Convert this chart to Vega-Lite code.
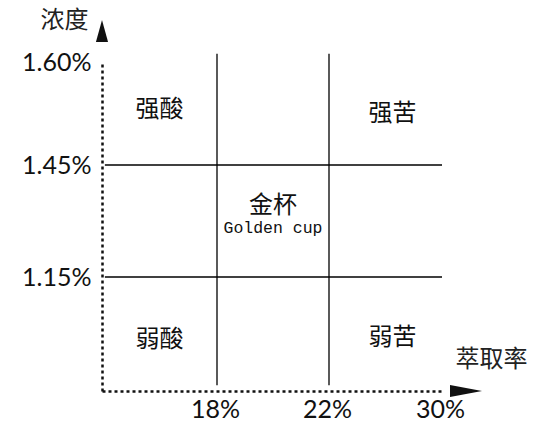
{
  "$schema": "https://vega.github.io/schema/vega-lite/v6.json",
  "autosize": "none",
  "width": 380,
  "height": 371,
  "padding": {"left": 102, "top": 20, "right": 57, "bottom": 48},
  "background": "white",
  "config": {"view": {"stroke": null}},
  "datasets": {
    "hlines": [
      {"x": 14.1, "x2": 30, "y": 1.45},
      {"x": 14.1, "x2": 30, "y": 1.15}
    ],
    "vlines": [
      {"x": 18, "y": 0.865, "y2": 1.612},
      {"x": 22, "y": 0.865, "y2": 1.612}
    ],
    "regions": [
      {"label": "强酸", "x": 16, "y": 1.53},
      {"label": "强苦", "x": 26.5, "y": 1.525},
      {"label": "金杯", "x": 20, "y": 1.34},
      {"label": "弱酸", "x": 16, "y": 0.985},
      {"label": "弱苦", "x": 26.5, "y": 0.99}
    ],
    "sub": [
      {"label": "Golden cup", "x": 20, "y": 1.28}
    ],
    "arrowY": [{"x": 14, "y": 1.645}],
    "arrowX": [{"x": 31.7, "y": 0.85}]
  },
  "layer": [
    {
      "data": {"name": "hlines"},
      "mark": {"type": "rule", "color": "#000", "strokeWidth": 1.3},
      "encoding": {
        "x": {"field": "x", "type": "quantitative",
          "scale": {"domain": [14, 18, 22, 30], "range": [0, 115, 227, 340], "nice": false, "zero": false},
          "axis": {
            "values": [18, 22, 30],
            "labelExpr": "datum.value + '%'",
            "labelFont": "Lato", "labelFontSize": 25, "labelColor": "#111",
            "labelBaseline": "top", "labelPadding": 6, "labelOffset": -2,
            "ticks": false, "grid": false,
            "domainColor": "#111", "domainWidth": 2.5, "domainDash": [3, 3],
            "title": "萃取率", "titleFont": "Noto Sans CJK SC", "titleFontSize": 24,
            "titleFontWeight": "normal", "titleColor": "#222",
            "titleX": 389, "titleY": -32, "titleAlign": "center", "titleBaseline": "middle",
            "labelFlush": false, "labelOverlap": false
          }
        },
        "x2": {"field": "x2"},
        "y": {"field": "y", "type": "quantitative",
          "scale": {"domain": [0.85, 1.15, 1.45, 1.6], "range": [371, 257, 145, 42], "nice": false, "zero": false},
          "axis": {
            "values": [1.15, 1.45, 1.6],
            "labelExpr": "format(datum.value, '.2f') + '%'",
            "labelFont": "Lato", "labelFontSize": 25, "labelColor": "#111",
            "labelPadding": 11, "labelBaseline": "middle",
            "ticks": false, "grid": false,
            "domainColor": "#111", "domainWidth": 2.5, "domainDash": [3, 3],
            "title": "浓度", "titleFont": "Noto Sans CJK SC", "titleFontSize": 24,
            "titleFontWeight": "normal", "titleColor": "#222", "titleAngle": 0,
            "titleX": -38, "titleY": 0, "titleAlign": "center", "titleBaseline": "middle",
            "labelFlush": false, "labelOverlap": false
          }
        }
      }
    },
    {
      "data": {"name": "vlines"},
      "mark": {"type": "rule", "color": "#000", "strokeWidth": 1.3},
      "encoding": {
        "x": {"field": "x", "type": "quantitative"},
        "y": {"field": "y", "type": "quantitative"},
        "y2": {"field": "y2"}
      }
    },
    {
      "data": {"name": "regions"},
      "mark": {"type": "text", "font": "Noto Sans CJK SC", "fontSize": 24, "color": "#111", "align": "center", "baseline": "middle"},
      "encoding": {
        "x": {"field": "x", "type": "quantitative"},
        "y": {"field": "y", "type": "quantitative"},
        "text": {"field": "label"}
      }
    },
    {
      "data": {"name": "sub"},
      "mark": {"type": "text", "font": "Liberation Mono", "fontSize": 16.5, "color": "#111", "align": "center", "baseline": "middle"},
      "encoding": {
        "x": {"field": "x", "type": "quantitative"},
        "y": {"field": "y", "type": "quantitative"},
        "text": {"field": "label"}
      }
    },
    {
      "data": {"name": "arrowY"},
      "mark": {"type": "point", "shape": "M-0.55,1L0,-1L0.55,1Z", "size": 484, "filled": true, "color": "#111", "opacity": 1},
      "encoding": {
        "x": {"field": "x", "type": "quantitative"},
        "y": {"field": "y", "type": "quantitative"}
      }
    },
    {
      "data": {"name": "arrowX"},
      "mark": {"type": "point", "shape": "M-1,-0.38L1,0L-1,0.38Z", "size": 1024, "filled": true, "color": "#111", "opacity": 1},
      "encoding": {
        "x": {"field": "x", "type": "quantitative"},
        "y": {"field": "y", "type": "quantitative"}
      }
    }
  ]
}
